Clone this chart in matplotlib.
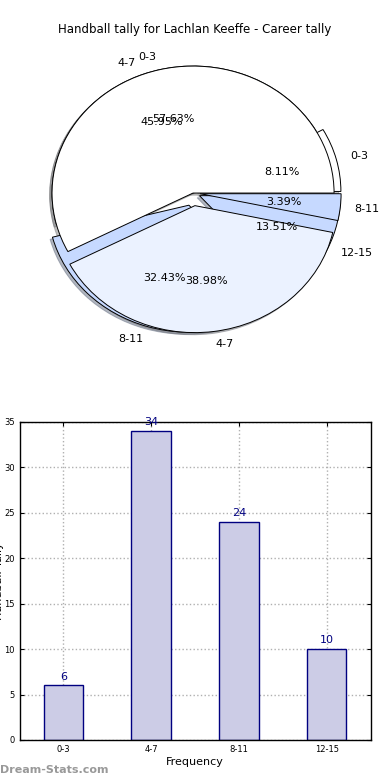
import matplotlib
matplotlib.use('Agg')
import matplotlib.pyplot as plt

# Career tally (frequency buckets)
categories = ['0-3', '4-7', '8-11', '12-15']
games = [6, 34, 24, 10]

# second pie drawn over the first one
cats2 = ['0-3', '4-7', '8-11']
vals2 = [34, 23, 2]

fig = plt.figure(figsize=(3.9, 7.8), dpi=100)

fig.text(0.5, 1 - 30 / 780, 'Handball tally for Lachlan Keeffe - Career tally',
         ha='center', va='center', fontsize=8.5)

# Pie chart (not equal aspect, like the old output)
ax1 = fig.add_axes([0.043, 0.549, 0.904, 0.407])
wp = dict(edgecolor='black', linewidth=0.7)
shad = dict(ox=-0.012, oy=-0.012, shade=0.5)
ax1.pie(games, labels=categories, autopct='%1.2f%%',
        explode=[0.05, 0, 0.1, 0.05], shadow=shad,
        colors=['#ffffff', '#ebf2ff', '#c6d9ff', '#c6d9ff'],
        wedgeprops=wp, textprops=dict(fontsize=8))
ax1.pie(vals2, labels=cats2, autopct='%1.2f%%',
        explode=[0, 0.1, 0.05], shadow=shad,
        colors=['#ffffff', '#ebf2ff', '#c6d9ff'],
        wedgeprops=wp, textprops=dict(fontsize=8))
ax1.set_aspect('auto')
ax1.set_xlim(-1.25, 1.25)
ax1.set_ylim(-1.25, 1.25)
ax1.axis('off')

# Bar chart
ax2 = fig.add_axes([0.05, 0.0513, 0.9, 0.408])
x = range(len(categories))
ax2.bar(x, games, width=0.45, color='#ccccE6', edgecolor='#000080', linewidth=1, zorder=2)
for i, v in zip(x, games):
    ax2.text(i, v + 0.4, str(v), ha='center', va='bottom', fontsize=8, color='#000080')
ax2.set_xlim(-0.5, 3.5)
ax2.set_ylim(0, 35)
ax2.set_xticks(list(x))
ax2.set_xticklabels(categories)
ax2.set_yticks(range(0, 36, 5))
ax2.tick_params(labelsize=6, direction='in', top=True, right=True, length=3)
ax2.grid(True, linestyle=':', color='#b0b0b0', linewidth=1, zorder=0)
ax2.set_axisbelow(True)
ax2.set_xlabel('Frequency', fontsize=8, labelpad=2)
ax2.set_ylabel('Handball Tally', fontsize=8)
ax2.yaxis.set_label_coords(-0.045, 0.5)
for s in ax2.spines.values():
    s.set_linewidth(1)

fig.text(0.0, 1 - 770 / 780, 'Dream-Stats.com', fontsize=8, color='#999999',
         fontweight='bold', ha='left', va='center')

fig.savefig('out.png', dpi=100)
